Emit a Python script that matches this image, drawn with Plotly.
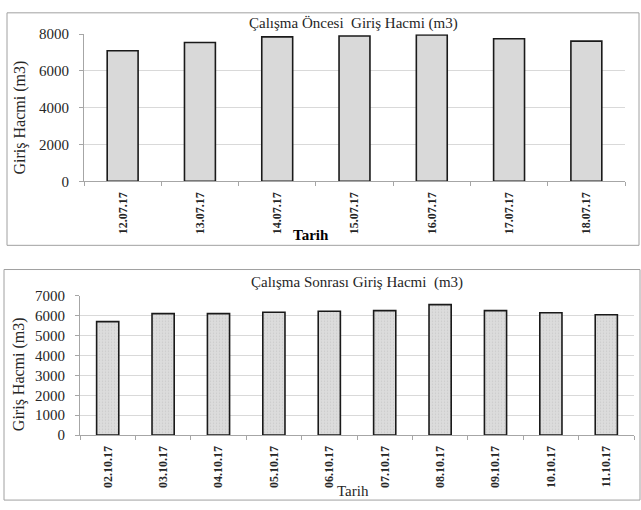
import plotly.graph_objects as go

W, H = 641, 510

# ---- data ----
dates_before = ["12.07.17", "13.07.17", "14.07.17", "15.07.17", "16.07.17", "17.07.17", "18.07.17"]
vol_before = [7100, 7550, 7850, 7900, 7950, 7750, 7620]

dates_after = ["02.10.17", "03.10.17", "04.10.17", "05.10.17", "06.10.17",
               "07.10.17", "08.10.17", "09.10.17", "10.10.17", "11.10.17"]
vol_after = [5700, 6100, 6100, 6170, 6220, 6250, 6550, 6250, 6140, 6040]

title_before = "Çalışma Öncesi  Giriş Hacmi (m3)"
title_after = "Çalışma Sonrası Giriş Hacmi  (m3)"
y_title = "Giriş Hacmi (m3)"
x_title = "Tarih"

SERIF = "Liberation Serif, Times New Roman, serif"
TXT = "#262626"
GRID = "#d9d9d9"
AX = "#a6a6a6"


def px(x):
    return x / W


def py(y):
    return 1 - y / H


fig = go.Figure()
fig.add_trace(go.Bar(x=dates_before, y=vol_before, xaxis="x", yaxis="y",
                     marker=dict(color="#d9d9d9", line=dict(color="#1a1a1a", width=1.6)),
                     width=0.4, showlegend=False))
fig.add_trace(go.Bar(x=dates_after, y=vol_after, xaxis="x2", yaxis="y2",
                     marker=dict(color="#d9d9d9", line=dict(color="#1a1a1a", width=1.6),
                                 pattern=dict(shape=".", fgcolor="#b5b5b5", bgcolor="#dcdcdc",
                                              size=3, solidity=0.15)),
                     width=0.4, showlegend=False))

xcommon = dict(showline=True, linecolor=AX, linewidth=1, ticks="outside", tickson="boundaries",
               ticklen=4, tickcolor=AX, tickangle=-90, showgrid=False, ticklabelstandoff=5,
               tickfont=dict(family=SERIF, size=12, color=TXT, weight="bold"), fixedrange=True)
ycommon = dict(showline=True, linecolor=AX, linewidth=1, ticks="outside", ticklen=4, tickcolor=AX,
               showgrid=True, gridcolor=GRID, gridwidth=1, zeroline=False, ticklabelstandoff=7,
               tickfont=dict(family=SERIF, size=15, color=TXT), fixedrange=True)


def ann(text, x, y, size, angle=0, bold=False, color=TXT):
    f = dict(family=SERIF, size=size, color=color)
    if bold:
        f["weight"] = "bold"
    return dict(text=text, x=px(x), y=py(y), xref="paper", yref="paper", showarrow=False,
                xanchor="center", yanchor="middle", textangle=angle, font=f)


fig.update_layout(
    width=W, height=H, margin=dict(l=0, r=0, t=0, b=0),
    paper_bgcolor="white", plot_bgcolor="white",
    xaxis=dict(domain=[px(84), px(625)], anchor="y", **xcommon),
    yaxis=dict(domain=[py(179), py(27)], anchor="x", range=[0, 8000], dtick=2000, **ycommon),
    xaxis2=dict(domain=[px(80), px(634)], anchor="y2", **xcommon),
    yaxis2=dict(domain=[py(441), py(297)], anchor="x2", range=[0, 7000], dtick=1000, **ycommon),
    shapes=[
        dict(type="rect", xref="paper", yref="paper", x0=px(7), x1=px(639), y0=py(245), y1=py(5),
             line=dict(color="#a0a0a0", width=1)),
        dict(type="rect", xref="paper", yref="paper", x0=px(4), x1=px(640), y0=py(508), y1=py(270),
             line=dict(color="#a0a0a0", width=1)),
    ],
    annotations=[
        ann(title_before, 354, 16, 15),
        ann(title_after, 357, 283, 15),
        ann(y_title, 20, 113, 16, angle=-90),
        ann(y_title, 19, 378, 16, angle=-90),
        ann(x_title, 311, 234, 15, bold=True, color="black"),
        ann(x_title, 353, 499, 15),
    ],
)

fig.write_html("out.html", config={"displayModeBar": False},
               post_script="document.body.style.margin='0';")
